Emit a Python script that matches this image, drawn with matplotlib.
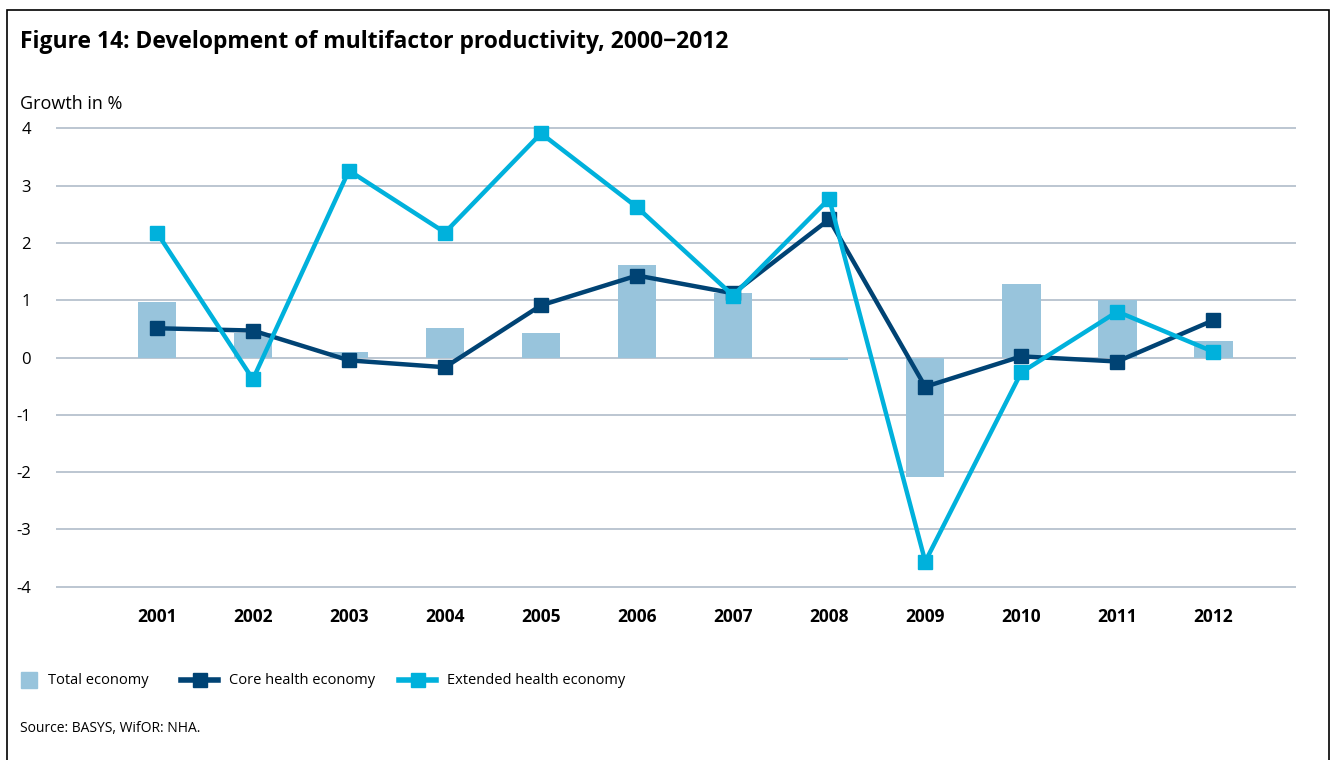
import numpy as np
import matplotlib.pyplot as plt
from matplotlib.patches import Rectangle
from matplotlib.lines import Line2D

years = ['2001', '2002', '2003', '2004', '2005', '2006',
         '2007', '2008', '2009', '2010', '2011', '2012']
total = [0.96, 0.42, 0.10, 0.52, 0.42, 1.62, 1.13, -0.05, -2.09, 1.29, 1.01, 0.28]
core = [0.51, 0.47, -0.05, -0.17, 0.91, 1.43, 1.12, 2.41, -0.51, 0.02, -0.07, 0.65]
extended = [2.18, -0.38, 3.26, 2.18, 3.91, 2.62, 1.08, 2.77, -3.56, -0.26, 0.80, 0.10]

c_bar = '#98c4dc'
c_core = '#004374'
c_ext = '#00b1dc'
c_grid = '#bcc6d1'

plt.rcParams['font.family'] = ['Open Sans', 'DejaVu Sans']
plt.rcParams['axes.unicode_minus'] = False

W, H = 1332, 760
fig = plt.figure(figsize=(W / 100, H / 100), dpi=100)

# frame round the whole figure
fig.add_artist(Rectangle((7 / W, -0.1), (1329 - 7) / W, 1.1 - 10 / H,
                         transform=fig.transFigure, fill=False,
                         edgecolor='black', linewidth=1.2))

ax = fig.add_axes([56 / W, 1 - 600 / H, (1296 - 56) / W, (600 - 115) / H])
x = np.arange(len(years))

ax.bar(x, total, width=0.4, color=c_bar, zorder=2)
ax.plot(x, core, color=c_core, linewidth=3.2, marker='s', markersize=10, zorder=3)
ax.plot(x, extended, color=c_ext, linewidth=3.2, marker='s', markersize=10, zorder=4)

ax.set_xlim(-1.05, 11.86)
ax.set_ylim(-4.23, 4.23)
ax.set_yticks(range(-4, 5))
for yv in range(-4, 5):
    ax.axhline(yv, color=c_grid, linewidth=1.4, zorder=1)
for s in ax.spines.values():
    s.set_visible(False)
ax.tick_params(length=0)
ax.tick_params(axis='y', labelsize=12, pad=18)
ax.set_xticks(x)
ax.set_xticklabels(years, fontsize=12.5, fontweight='bold')
ax.tick_params(axis='x', pad=6)

fig.text(20 / W, 1 - 42 / H, 'Figure 14: Development of multifactor productivity, 2000\u22122012',
         fontsize=16.5, fontweight='bold', va='center', ha='left')
fig.text(20 / W, 1 - 104 / H, 'Growth in %', fontsize=13, va='center', ha='left')
fig.text(20 / W, 1 - 729 / H, 'Source: BASYS, WifOR: NHA.', fontsize=10, va='center', ha='left')

# legend, drawn by hand
ly = 1 - 680 / H
fig.add_artist(Rectangle((21 / W, 1 - 688 / H), 16 / W, 16 / H, color=c_bar,
                         transform=fig.transFigure))
fig.text(48 / W, ly, 'Total economy', fontsize=10.5, va='center', ha='left')
for x0, col, lab in [(181, c_core, 'Core health economy'),
                     (399, c_ext, 'Extended health economy')]:
    fig.add_artist(Line2D([x0 / W, (x0 + 37) / W], [ly, ly], color=col, linewidth=4,
                          transform=fig.transFigure))
    fig.add_artist(Line2D([(x0 + 18.5) / W], [ly], color=col, marker='s', markersize=10,
                          transform=fig.transFigure))
    fig.text((x0 + 48) / W, ly, lab, fontsize=10.5, va='center', ha='left')

fig.savefig('out.png', dpi=100)
